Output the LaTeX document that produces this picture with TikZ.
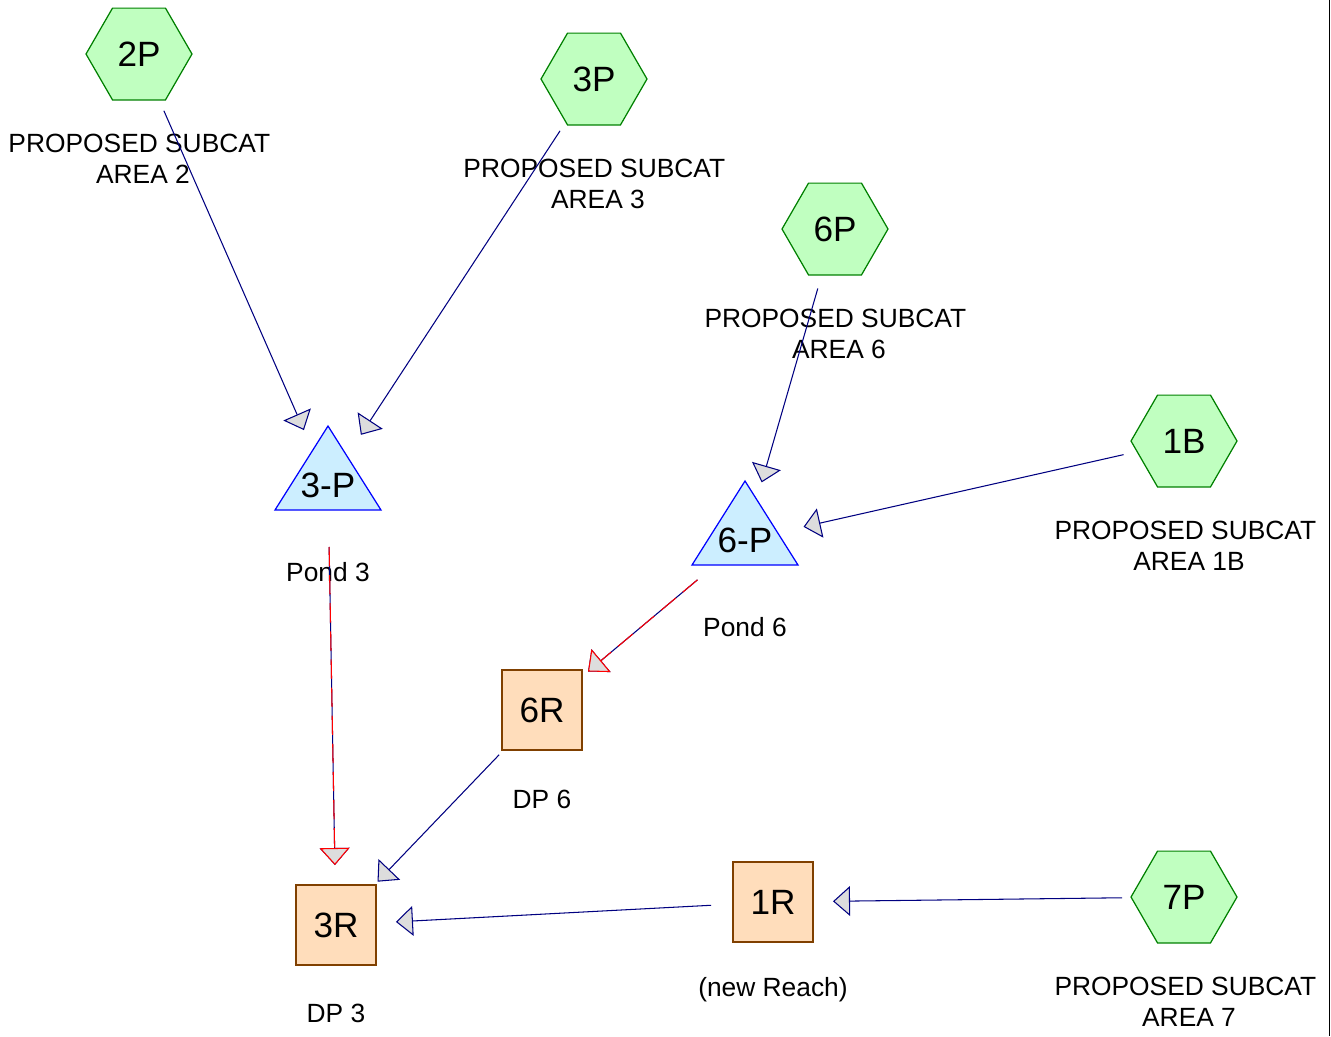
\documentclass[tikz,border=0pt]{standalone}
\usepackage{fontspec}
\setmainfont{Liberation Sans}
\usetikzlibrary{shapes.geometric,arrows.meta}
\definecolor{flowblue}{RGB}{0,0,128}
\definecolor{subfill}{RGB}{192,255,192}
\definecolor{subdraw}{RGB}{0,128,0}
\definecolor{pondfill}{RGB}{204,238,255}
\definecolor{ponddraw}{RGB}{0,0,255}
\definecolor{reachfill}{RGB}{255,221,187}
\definecolor{reachdraw}{RGB}{128,64,0}
\definecolor{tipfill}{RGB}{221,221,221}
\newcommand{\subcattxt}[1]{PROPOSED SUBCAT\kern4.2pt\\AREA #1}
\tikzset{
  subcat/.style={regular polygon, regular polygon sides=6, minimum size=2.12cm, inner sep=0pt,
    draw=subdraw, fill=subfill, line width=0.7pt, font=\fontsize{20}{22}\selectfont},
  reach/.style={rectangle, minimum size=1.6cm, inner sep=0pt,
    draw=reachdraw, fill=reachfill, line width=0.7pt, font=\fontsize{20}{22}\selectfont},
  pondtxt/.style={inner sep=0pt, font=\fontsize{20}{22}\selectfont},
  pondshape/.style={draw=ponddraw, fill=pondfill, line width=0.7pt},
  lbl/.style={align=center, inner sep=0pt, font=\fontsize{15}{17.6}\selectfont},
  flow/.style={draw=flowblue, line width=0.6pt, shorten <=1.24cm, shorten >=1.2cm,
    -{Triangle[length=9.7pt,width=17pt,fill=tipfill]}},
  spill/.style={flow, draw=red, dash pattern=on 11pt off 5pt}
}
\begin{document}
\begin{tikzpicture}[x=0.02cm, y=-0.02cm]
  \useasboundingbox (0,0) rectangle (1331,1036);
  \draw[line width=1pt] (1329.5,0) -- (1329.5,1036);

  % subcatchments
  \node[subcat] (p2) at (139,54) {2P};
  \node[lbl] (p2lbl) at (143,159) {\subcattxt{2}};
  \node[subcat] (p3) at (594,79) {3P};
  \node[lbl] (p3lbl) at (598,184) {\subcattxt{3}};
  \node[subcat] (p6) at (835,229) {6P};
  \node[lbl] (p6lbl) at (839,334) {\subcattxt{6}};
  \node[subcat] (b1) at (1184,441) {1B};
  \node[lbl] (b1lbl) at (1189,546) {\subcattxt{1B}};
  \node[subcat] (p7) at (1184,897) {7P};
  \node[lbl] (p7lbl) at (1189,1002) {\subcattxt{7}};

  % ponds
  \draw[pondshape] (328,426) -- (381,510) -- (275,510) -- cycle;
  \node[pondtxt] (pond3) at (328,485) {3-P};
  \node[lbl] (pond3lbl) at (328,572) {Pond 3};
  \draw[pondshape] (745,481) -- (798,565) -- (692,565) -- cycle;
  \node[pondtxt] (pond6) at (745,540) {6-P};
  \node[lbl] (pond6lbl) at (745,627) {Pond 6};

  % reaches
  \node[reach] (r6) at (542,710) {6R};
  \node[lbl] (r6lbl) at (542,799) {DP 6};
  \node[reach] (r3) at (336,925) {3R};
  \node[lbl] (r3lbl) at (336,1013) {DP 3};
  \node[reach] (r1) at (773,902) {1R};
  \node[lbl] (r1lbl) at (773,990) {(new Reach)};

  % links
  \draw[flow] (p2.center) -- (pond3.center);
  \draw[flow] (p3.center) -- (pond3.center);
  \draw[flow] (p6.center) -- (pond6.center);
  \draw[flow] (b1.center) -- (pond6.center);
  \draw[flow] (pond6.center) -- (r6.center);
  \draw[spill] (pond6.center) -- (r6.center);
  \draw[flow] (pond3.center) -- (r3.center);
  \draw[spill] (pond3.center) -- (r3.center);
  \draw[flow] (r6.center) -- (r3.center);
  \draw[flow] (r1.center) -- (r3.center);
  \draw[flow] (p7.center) -- (r1.center);
\end{tikzpicture}
\end{document}
